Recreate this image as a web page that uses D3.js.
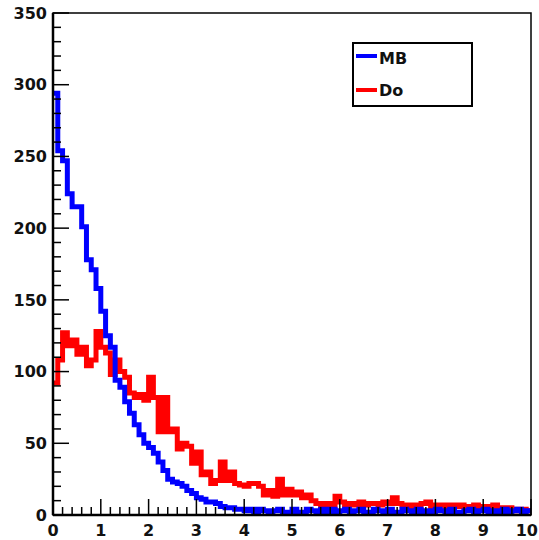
<!DOCTYPE html>
<html>
<head>
<meta charset="utf-8">
<script src="https://cdn.jsdelivr.net/npm/d3@7"></script>
<style>
  body { margin: 0; background: #fff; }
  text { font-family: "DejaVu Sans", sans-serif; font-weight: bold; fill: #111; }
</style>
</head>
<body>
<div id="plot"></div>
<script>
// histogram binning: 100 bins from 0 to 10
const xRange = [0, 10];
const nBins = 100;

// bin contents
const mbCounts = [
  294, 254, 247, 224, 215, 215, 201, 178, 171, 158,
  142, 125, 117, 94, 89, 79, 71, 63, 56, 50,
  47, 43, 37, 31, 25, 23, 22, 20, 17, 15,
  12, 11, 9, 9, 8, 6, 5, 5, 4, 4,
  3, 4, 2, 4, 3, 1, 3, 4, 2, 1,
  4, 2, 1, 4, 3, 1, 4, 2, 4, 1,
  3, 4, 1, 3, 4, 1, 2, 4, 3, 1,
  4, 2, 1, 4, 3, 1, 4, 2, 3, 1,
  4, 3, 1, 4, 2, 1, 3, 4, 1, 3,
  4, 1, 3, 2, 4, 1, 3, 4, 1, 3
];
const doCounts = [
  92, 108, 127, 118, 122, 112, 117, 104, 108, 128,
  117, 113, 98, 108, 100, 96, 85, 82, 84, 80,
  96, 82, 58, 82, 58, 60, 46, 50, 48, 36,
  44, 28, 30, 22, 24, 37, 24, 30, 22, 21,
  20, 22, 22, 20, 14, 17, 13, 25, 14, 18,
  14, 16, 12, 14, 10, 8, 6, 8, 6, 13,
  9, 7, 8, 7, 9, 7, 8, 8, 7, 9,
  8, 12, 8, 7, 5, 7, 6, 8, 9, 6,
  7, 7, 5, 7, 6, 7, 5, 6, 7, 5,
  6, 5, 7, 5, 4, 5, 4, 3, 4, 3
];
const yTicks = [0, 50, 100, 150, 200, 250, 300, 350];
const xTicks = [0, 1, 2, 3, 4, 5, 6, 7, 8, 9, 10];
const legendItems = [
  { label: "MB", color: "#0000ff" },
  { label: "Do", color: "#ff0000" }
];

const margin = { top: 13, right: 8, bottom: 25, left: 53 },
      width = 539 - margin.left - margin.right,
      height = 540 - margin.top - margin.bottom;

const svg = d3.select("div#plot")
  .append("svg")
  .attr("width", 539)
  .attr("height", 540)
  .append("g")
  .attr("transform", `translate(${margin.left},${margin.top})`);

const x = d3.scaleLinear().domain(xRange).range([0, width]);
const y = d3.scaleLinear().domain([0, 350]).range([height, 0]);

svg.append("defs").append("clipPath")
  .attr("id", "frame")
  .append("rect")
  .attr("width", width)
  .attr("height", height);

// step outline of a histogram (starts at top of first bin, like ROOT HIST)
const binWidth = (xRange[1] - xRange[0]) / nBins;
function stepPoints(counts) {
  const pts = counts.map((c, i) => [xRange[0] + i * binWidth, c]);
  pts.push([xRange[1], counts[counts.length - 1]]);
  return pts;
}
const stepLine = d3.line()
  .x(d => x(d[0]))
  .y(d => y(d[1]))
  .curve(d3.curveStepAfter);

const hists = svg.append("g").attr("clip-path", "url(#frame)");

hists.append("path")
  .attr("d", stepLine(stepPoints(doCounts)))
  .attr("fill", "none")
  .attr("stroke", "#ff0000")
  .attr("stroke-width", 5);

hists.append("path")
  .attr("d", stepLine(stepPoints(mbCounts)))
  .attr("fill", "none")
  .attr("stroke", "#0000ff")
  .attr("stroke-width", 5);

// frame
svg.append("rect")
  .attr("width", width)
  .attr("height", height)
  .attr("fill", "none")
  .attr("stroke", "#000")
  .attr("stroke-width", 1.5);

// y axis ticks (inside, ROOT-style)
const yMinor = d3.range(0, 351, 10);
svg.append("g").selectAll("line")
  .data(yMinor)
  .enter().append("line")
  .attr("x1", 0)
  .attr("x2", d => d % 50 === 0 ? 16 : 8)
  .attr("y1", d => y(d))
  .attr("y2", d => y(d))
  .attr("stroke", "#000")
  .attr("stroke-width", 1.5);

svg.append("g").selectAll("text")
  .data(yTicks)
  .enter().append("text")
  .attr("x", -6)
  .attr("y", d => y(d))
  .attr("dy", "0.36em")
  .attr("text-anchor", "end")
  .style("font-size", "16px")
  .text(d => d);

// x axis ticks
const xMinor = d3.range(0, 51).map(i => i * 0.2);
svg.append("g").selectAll("line")
  .data(xMinor)
  .enter().append("line")
  .attr("x1", d => x(d))
  .attr("x2", d => x(d))
  .attr("y1", height)
  .attr("y2", (d, i) => i % 5 === 0 ? height - 16 : height - 8)
  .attr("stroke", "#000")
  .attr("stroke-width", 1.5);

svg.append("g").selectAll("text")
  .data(xTicks)
  .enter().append("text")
  .attr("x", d => d === 10 ? x(d) + 7 : x(d))
  .attr("y", height + 21)
  .attr("text-anchor", d => d === 10 ? "end" : "middle")
  .style("font-size", "16px")
  .text(d => d);

// axis lines a bit heavier
svg.append("line")
  .attr("x1", 0).attr("x2", 0)
  .attr("y1", 0).attr("y2", height)
  .attr("stroke", "#000").attr("stroke-width", 2.5);
svg.append("line")
  .attr("x1", 0).attr("x2", width)
  .attr("y1", height).attr("y2", height)
  .attr("stroke", "#000").attr("stroke-width", 2.5);

// legend
const legend = svg.append("g")
  .attr("transform", `translate(${353 - margin.left},${43 - margin.top})`);

legend.append("rect")
  .attr("width", 119)
  .attr("height", 63)
  .attr("fill", "#fff")
  .attr("stroke", "#000")
  .attr("stroke-width", 2);

legend.selectAll(".legend-line")
  .data(legendItems)
  .enter().append("line")
  .attr("class", "legend-line")
  .attr("x1", 3)
  .attr("x2", 24)
  .attr("y1", (d, i) => 13 + i * 34)
  .attr("y2", (d, i) => 13 + i * 34)
  .attr("stroke", d => d.color)
  .attr("stroke-width", 4);

legend.selectAll(".legend-text")
  .data(legendItems)
  .enter().append("text")
  .attr("class", "legend-text")
  .attr("x", 26)
  .attr("y", (d, i) => 15 + i * 32)
  .attr("dy", "0.36em")
  .style("font-size", "16px")
  .text(d => d.label);
</script>
</body>
</html>
